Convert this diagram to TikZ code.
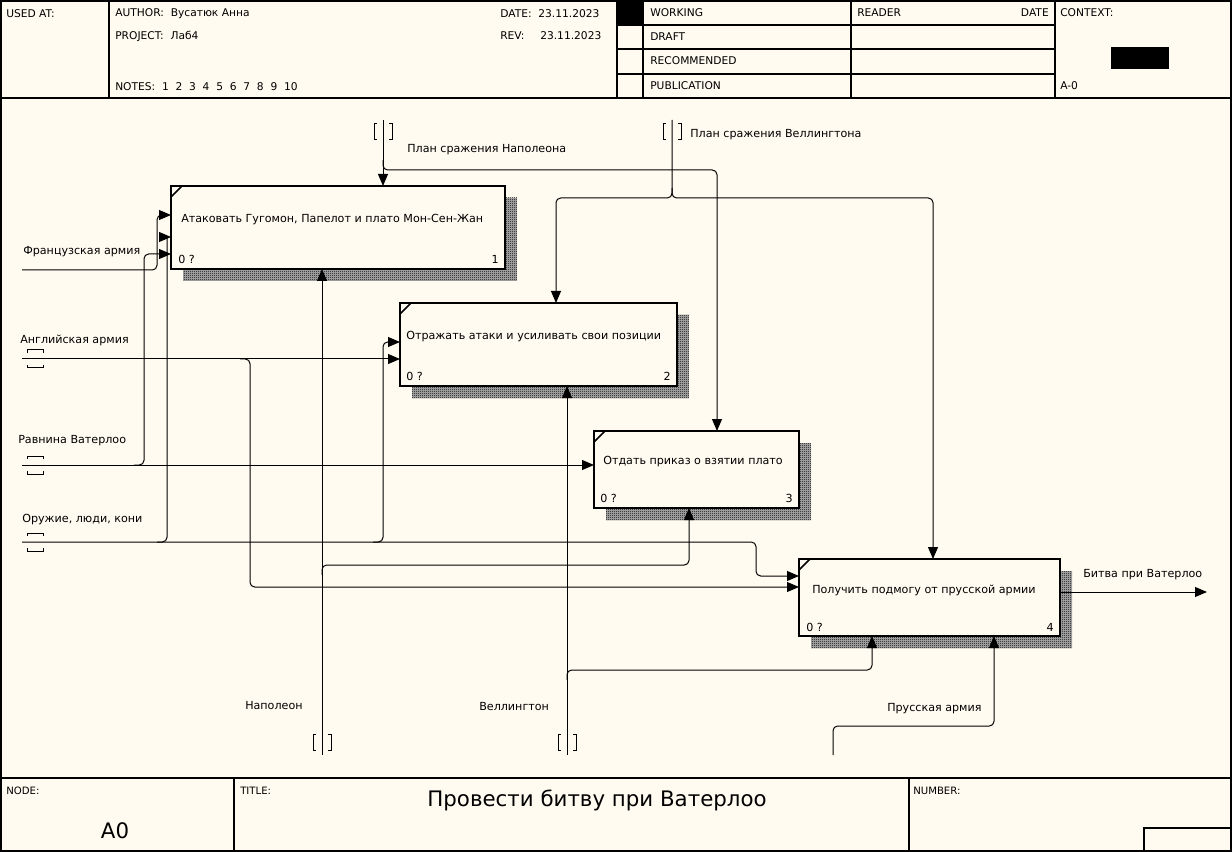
\documentclass[tikz,border=0pt]{standalone}
\usepackage{fontspec}
\setmainfont{DejaVu Sans}
\usetikzlibrary{arrows.meta,patterns,fit}
\definecolor{paper}{RGB}{255,251,240}
\pgfdeclarepatternformonly{checker}{\pgfqpoint{0pt}{0pt}}{\pgfqpoint{1.5pt}{1.5pt}}{\pgfqpoint{1.5pt}{1.5pt}}{%
  \pgfpathrectangle{\pgfqpoint{0pt}{0pt}}{\pgfqpoint{0.75pt}{0.75pt}}%
  \pgfpathrectangle{\pgfqpoint{0.75pt}{0.75pt}}{\pgfqpoint{0.75pt}{0.75pt}}%
  \pgfusepath{fill}}
\tikzset{
  frame/.style={line width=1.3pt},
  actbox/.style={draw, line width=2.2pt, fill=paper, inner sep=0pt},
  shade/.style={fill=black!30, postaction={pattern=checker, pattern color=black}},
  conn/.style={line width=0.75pt, rounded corners=3.5pt},
  arr/.style={conn, -{Triangle[length=9pt,width=7.5pt]}},
  tun/.style={line width=0.75pt},
  hdr/.style={anchor=west, inner sep=0pt, font=\fontsize{8}{9.6}\selectfont},
  lbl/.style={anchor=west, inner sep=0pt, font=\fontsize{8.35}{10}\selectfont},
  small/.style={anchor=west, inner sep=0pt, font=\fontsize{7.6}{9}\selectfont},
  big/.style={inner sep=0pt, font=\fontsize{16}{19}\selectfont}
}
\begin{document}
\begin{tikzpicture}[x=0.75pt,y=-0.75pt]
\useasboundingbox (0,0) rectangle (1232,852);
\fill[paper] (0,0) rectangle (1232,852);
% frame and header
\draw[frame] (1,1) rectangle (1231,851);
\draw[frame] (0,98) -- (1232,98) (109,0) -- (109,98) (617,0) -- (617,98) (643,0) -- (643,98)
  (851,0) -- (851,98) (1055,0) -- (1055,98);
\draw[frame] (617,25) -- (1055,25) (617,49) -- (1055,49) (617,74) -- (1055,74);
\fill (617,0) rectangle (643,25);
\fill (1111,47) rectangle (1169,69);
\node[hdr] (usedat) at (6,14) {USED AT:};
\node[hdr] (author) at (115,14) {AUTHOR:\ \ Вусатюк Анна};
\node[hdr] (project) at (115,36) {PROJECT:\ \ Лаб4};
\node[hdr] (notes) at (115,87) {NOTES:\ \ 1\ \ 2\ \ 3\ \ 4\ \ 5\ \ 6\ \ 7\ \ 8\ \ 9\ \ 10};
\node[hdr] (date) at (500,14) {DATE:\ \ 23.11.2023};
\node[hdr] (rev) at (500,36) {REV:};
\node[hdr] (revval) at (540,36) {23.11.2023};
\node[hdr] (working) at (650,13) {WORKING};
\node[hdr] (draft) at (650,37) {DRAFT};
\node[hdr] (recom) at (650,61) {RECOMMENDED};
\node[hdr] (publ) at (650,86) {PUBLICATION};
\node[hdr] (reader) at (857,13) {READER};
\node[hdr, anchor=east] (rdate) at (1049,13) {DATE};
\node[hdr] (context) at (1060,13) {CONTEXT:};
\node[hdr] (ctxnode) at (1060,86) {A-0};
% footer
\draw[frame] (0,778) -- (1232,778) (234,778) -- (234,852) (909,778) -- (909,852);
\draw[frame] (1144,828) rectangle (1232,852);
\node[small] (nodelbl) at (6,791) {NODE:};
\node[small] (titlelbl) at (240,791) {TITLE:};
\node[small] (numlbl) at (913,791) {NUMBER:};
\node[big] (nodeno) at (115,831) {A0};
\node[big] (title) at (597,800) {Провести битву при Ватерлоо};
% activity boxes
\fill[shade] (183,198) rectangle (517,281);
\fill[shade] (412,315) rectangle (689,398);
\fill[shade] (606,443) rectangle (811,520);
\fill[shade] (811,571) rectangle (1072,648);
\node[actbox, fit={(171,186) (505,269)}] (b1) {};
\node[actbox, fit={(400,303) (677,386)}] (b2) {};
\node[actbox, fit={(594,431) (799,508)}] (b3) {};
\node[actbox, fit={(799,559) (1060,636)}] (b4) {};
\draw[line width=1.3pt] (171,197) -- (182,186) (400,314) -- (411,303) (594,442) -- (605,431) (799,570) -- (810,559);
\node[lbl] (t1) at (181,220) {Атаковать Гугомон, Папелот и плато Мон-Сен-Жан};
\node[lbl] (t2) at (406,337) {Отражать атаки и усиливать свои позиции};
\node[lbl] (t3) at (603,462) {Отдать приказ о взятии плато};
\node[lbl] (t4) at (812,590) {Получить подмогу от прусской армии};
\node[lbl] (c1) at (178,259) {0 ?};
\node[lbl] (c2) at (406,376) {0 ?};
\node[lbl] (c3) at (600,498) {0 ?};
\node[lbl] (c4) at (806,627) {0 ?};
\node[lbl, anchor=east] (n1) at (499,259) {1};
\node[lbl, anchor=east] (n2) at (671,376) {2};
\node[lbl, anchor=east] (n3) at (793,498) {3};
\node[lbl, anchor=east] (n4) at (1054,627) {4};
% ports and free ends
\coordinate (fr) at (22,270);
\coordinate (en) at (22,359);
\coordinate (pl) at (22,465);
\coordinate (we) at (22,542);
\coordinate (np) at (383,120);
\coordinate (wp) at (672,120);
\coordinate (nm) at (322,755);
\coordinate (wm) at (567,755);
\coordinate (pr) at (833,755);
\coordinate (out) at (1207,592);
\coordinate (b1i1) at (171,215);
\coordinate (b1i2) at (171,237);
\coordinate (b1i3) at (171,254);
\coordinate (b2i1) at (400,342);
\coordinate (b2i2) at (400,359);
\coordinate (b3i1) at (594,465);
\coordinate (b4i1) at (799,576);
\coordinate (b4i2) at (799,587);
\coordinate (b1c) at (383,186);
\coordinate (b2c) at (556,303);
\coordinate (b3c) at (717,431);
\coordinate (b4c) at (933,559);
\coordinate (b1m) at (322,269);
\coordinate (b2m) at (567,386);
\coordinate (b3m) at (689,508);
\coordinate (b4m1) at (872,636);
\coordinate (b4m2) at (994,636);
\coordinate (b4o) at (1060,592);
% inputs
\draw[arr] (fr) -- (157,270) -- (157,215) -- (b1i1);
\draw[arr] (en) -- (b2i2);
\draw[arr] (240,359) -- (250,359) -- (250,587) -- (b4i2);
\draw[arr] (pl) -- (b3i1);
\draw[arr] (134,465) -- (144,465) -- (144,254) -- (b1i3);
\draw[arr] (we) -- (756,542) -- (756,576) -- (b4i1);
\draw[conn] (157,542) -- (167,542) -- (167,237);
\draw[arr] (159,237) -- (b1i2);
\draw[arr] (373,542) -- (383,542) -- (383,342) -- (b2i1);
% controls
\draw[arr] (np) -- (b1c);
\draw[arr] (383,160) -- (383,170) -- (717,170) -- (b3c);
\draw[arr] (wp) -- (672,198) -- (556,198) -- (b2c);
\draw[arr] (672,188) -- (672,198) -- (933,198) -- (b4c);
% mechanisms
\draw[arr] (nm) -- (b1m);
\draw[arr] (322,575) -- (322,565) -- (689,565) -- (b3m);
\draw[arr] (wm) -- (b2m);
\draw[arr] (567,680) -- (567,670) -- (872,670) -- (b4m1);
\draw[arr] (pr) -- (833,726) -- (994,726) -- (b4m2);
% output
\draw[arr] (b4o) -- (out);
% tunnels
\draw[tun] (377,124) -- (374,124) -- (374,140) -- (377,140) (389,124) -- (392,124) -- (392,140) -- (389,140);
\draw[tun] (666,124) -- (663,124) -- (663,140) -- (666,140) (678,124) -- (681,124) -- (681,140) -- (678,140);
\draw[tun] (316,734) -- (313,734) -- (313,750) -- (316,750) (328,734) -- (331,734) -- (331,750) -- (328,750);
\draw[tun] (561,734) -- (558,734) -- (558,750) -- (561,750) (573,734) -- (576,734) -- (576,750) -- (573,750);
\draw[tun] (27,353) -- (27,350) -- (43,350) -- (43,353) (27,365) -- (27,368) -- (43,368) -- (43,365);
\draw[tun] (27,459) -- (27,456) -- (43,456) -- (43,459) (27,471) -- (27,474) -- (43,474) -- (43,471);
\draw[tun] (27,536) -- (27,533) -- (43,533) -- (43,536) (27,548) -- (27,551) -- (43,551) -- (43,548);
% arrow labels
\node[lbl] (lnp) at (407,150) {План сражения Наполеона};
\node[lbl] (lwp) at (690,135) {План сражения Веллингтона};
\node[lbl] (lfr) at (23,252) {Французская армия};
\node[lbl] (len) at (20,340) {Английская армия};
\node[lbl] (lpl) at (18,441) {Равнина Ватерлоо};
\node[lbl] (lwe) at (22,520) {Оружие, люди, кони};
\node[lbl] (lnm) at (245,706) {Наполеон};
\node[lbl] (lwm) at (479,707) {Веллингтон};
\node[lbl] (lpr) at (887,709) {Прусская армия};
\node[lbl] (lout) at (1083,575) {Битва при Ватерлоо};
\end{tikzpicture}
\end{document}
